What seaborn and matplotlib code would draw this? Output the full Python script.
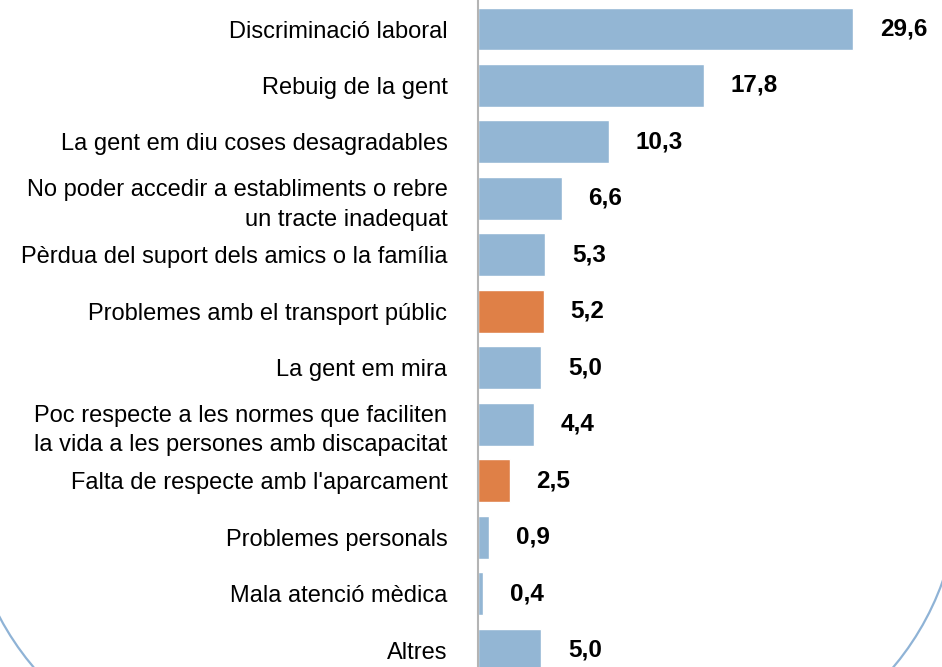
import matplotlib
matplotlib.use("Agg")
import matplotlib.pyplot as plt
import seaborn as sns
import pandas as pd
from matplotlib.patches import Arc

# dades
categories = [
    "Discriminació laboral",
    "Rebuig de la gent",
    "La gent em diu coses desagradables",
    "No poder accedir a establiments o rebre\nun tracte inadequat",
    "Pèrdua del suport dels amics o la família",
    "Problemes amb el transport públic",
    "La gent em mira",
    "Poc respecte a les normes que faciliten\nla vida a les persones amb discapacitat",
    "Falta de respecte amb l'aparcament",
    "Problemes personals",
    "Mala atenció mèdica",
    "Altres",
]
values = [29.6, 17.8, 10.3, 6.6, 5.3, 5.2, 5.0, 4.4, 2.5, 0.9, 0.4, 5.0]
highlight = [False, False, False, False, False, True, False, False, True, False, False, False]

blue = "#93b6d4"
orange = "#df8047"

df = pd.DataFrame({"cat": categories, "val": values})
colors = [orange if h else blue for h in highlight]

sns.set_style("white")
plt.rcParams["font.family"] = ["Liberation Sans", "DejaVu Sans"]

fig = plt.figure(figsize=(9.42, 6.67), dpi=100)
ax = fig.add_axes([478 / 942, 0, 1 - 478 / 942, 1])

sns.barplot(data=df, y="cat", x="val", hue="cat", palette=colors, legend=False,
            orient="h", width=0.76, saturation=1, ax=ax)

ax.set_xlim(0, 36.6)
ax.set_ylim(11.30, -0.514)
ax.set_xlabel("")
ax.set_ylabel("")
ax.set_xticks([])
sns.despine(ax=ax, top=True, right=True, bottom=True, left=False)
ax.spines["left"].set_color("#b4b4b4")
ax.spines["left"].set_linewidth(1.5)
ax.tick_params(axis="y", length=0, pad=22, labelsize=17, labelcolor="black")
for lbl in ax.get_yticklabels():
    lbl.set_horizontalalignment("right")
    lbl.set_multialignment("right")
    lbl.set_linespacing(1.45)

for i, v in enumerate(values):
    ax.text(v + 2.1, i, f"{v:.1f}".replace(".", ","), va="center", ha="left",
            fontsize=17.5, fontweight="bold", color="black")

# marc arrodonit (cantonades inferiors)
arc_col = "#8fb3d6"
fig.patches.append(Arc((247, 181), 560, 560, theta1=180, theta2=270,
                       transform=None, color=arc_col, lw=1.6, figure=fig))
fig.patches.append(Arc((679, 180), 560, 560, theta1=270, theta2=360,
                       transform=None, color=arc_col, lw=1.6, figure=fig))

fig.savefig("out.png", dpi=100)
